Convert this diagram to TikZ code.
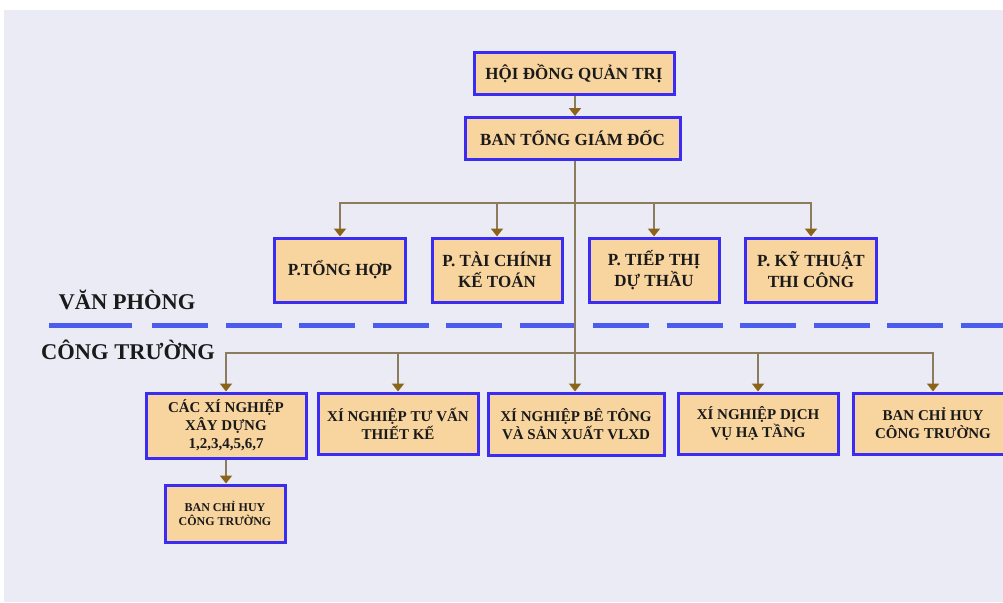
\documentclass[tikz,border=0pt]{standalone}
\usepackage{fontspec}
\setmainfont{Liberation Serif}
\usetikzlibrary{arrows.meta}
\definecolor{bgc}{HTML}{EBEBF5}
\definecolor{boxfill}{HTML}{F8D49E}
\definecolor{boxline}{HTML}{3A2CF2}
\definecolor{conn}{HTML}{8C7C5E}
\definecolor{tipc}{HTML}{8B6418}
\definecolor{dashc}{HTML}{4C5CEE}
\definecolor{txt}{HTML}{1A1A1A}
\tikzset{
  orgbox/.style={draw=boxline, line width=3pt, fill=boxfill, text=txt,
    font=\bfseries\fontsize{15}{18}\selectfont, align=center, inner sep=0pt},
  topbox/.style={orgbox, font=\bfseries\fontsize{17}{21}\selectfont},
  smallbox/.style={orgbox, font=\bfseries\fontsize{12}{14.5}\selectfont},
  link/.style={draw=conn, line width=2pt},
  arr/.style={link, -{Triangle[width=12pt,length=8pt,fill=tipc,color=tipc]}},
  zone/.style={text=txt, font=\bfseries\fontsize{22.5}{26}\selectfont},
}
\begin{document}
\begin{tikzpicture}[x=1pt,y=-1pt]
\useasboundingbox (0,0) rectangle (1003,602);
\fill[white] (0,0) rectangle (1003,602);
\fill[bgc] (4,10) rectangle (1003,602);
% dashed separator
\draw[dashc, line width=5pt] (49,325) -- (132,325);
\draw[dashc, line width=5pt, dash pattern=on 56pt off 17.5pt] (152,325) -- (1003,325);
\node[zone] (vp) at (127,300) {VĂN PHÒNG};
\node[zone] (ct) at (128,350) {CÔNG TRƯỜNG};
% top
\node[topbox, minimum width=200pt, minimum height=41pt] (hdqt) at (574,73.5) {HỘI ĐỒNG QUẢN TRỊ};
\node[topbox, minimum width=215pt, minimum height=42pt] (btgd) at (572.5,138.5) {BAN TỔNG GIÁM ĐỐC};
% departments
\node[topbox, minimum width=131pt, minimum height=64pt] (p1) at (340,270) {P.TỔNG HỢP};
\node[topbox, minimum width=130pt, minimum height=64pt] (p2) at (497,270) {P. TÀI CHÍNH\\KẾ TOÁN};
\node[topbox, minimum width=130pt, minimum height=64pt] (p3) at (654,270) {P. TIẾP THỊ\\DỰ THẦU};
\node[topbox, minimum width=131pt, minimum height=64pt] (p4) at (811,270) {P. KỸ THUẬT\\THI CÔNG};
% site units
\node[orgbox, minimum width=160pt, minimum height=65pt] (xa) at (226,425.5) {CÁC XÍ NGHIỆP\\XÂY DỰNG\\1,2,3,4,5,6,7};
\node[orgbox, minimum width=160pt, minimum height=61pt] (xb) at (398,423.5) {XÍ NGHIỆP TƯ VẤN\\THIẾT KẾ};
\node[orgbox, minimum width=176pt, minimum height=62pt] (xc) at (576,424) {XÍ NGHIỆP BÊ TÔNG\\VÀ SẢN XUẤT VLXD};
\node[orgbox, minimum width=160pt, minimum height=61pt] (xd) at (758,423.5) {XÍ NGHIỆP DỊCH\\VỤ HẠ TẦNG};
\node[orgbox, minimum width=160pt, minimum height=61pt] (xe) at (933,423.5) {BAN CHỈ HUY\\CÔNG TRƯỜNG};
\node[smallbox, minimum width=120pt, minimum height=57pt] (xf) at (225,513.5) {BAN CHỈ HUY\\CÔNG TRƯỜNG};
% connectors
\coordinate (barT) at (575,203);
\coordinate (barB) at (575,353);
\draw[arr] (hdqt.south -| 575,0) -- (btgd.north -| 575,0);
\draw[arr] (btgd.south -| 575,0) -- (xc.north -| 575,0);
\draw[arr] (barT) -| (p1.north);
\draw[arr] (barT) -| (p2.north);
\draw[arr] (barT) -| (p3.north);
\draw[arr] (barT) -| (p4.north);
\draw[arr] (barB) -| (xa.north);
\draw[arr] (barB) -| (xb.north);
\draw[arr] (barB) -| (xd.north);
\draw[arr] (barB) -| (xe.north);
\draw[arr] (xa.south) -- (xa.south |- xf.north);
\end{tikzpicture}
\end{document}
